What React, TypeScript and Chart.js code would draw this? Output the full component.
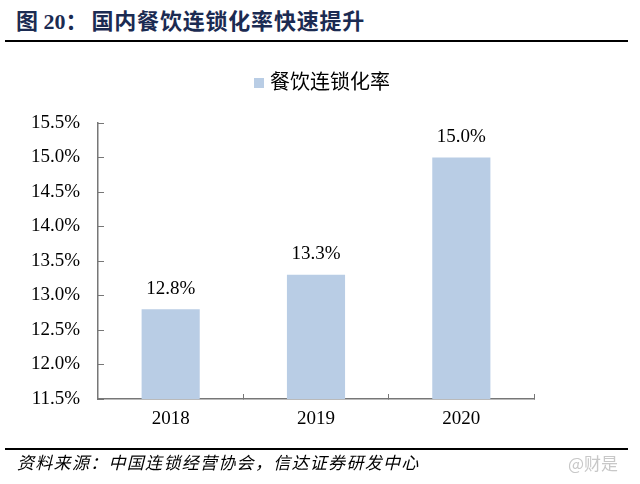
import React, { useEffect, useRef } from "react";
import { Chart, registerables } from "chart.js";

Chart.register(...registerables);

const categories = ["2018", "2019", "2020"];
const seriesName = "餐饮连锁化率";
const values = [12.8, 13.3, 15.0];
const yTicks = [11.5, 12.0, 12.5, 13.0, 13.5, 14.0, 14.5, 15.0, 15.5];

const titleLead = "图 20：";
const titleText = "国内餐饮连锁化率快速提升";
const sourceText = "资料来源：中国连锁经营协会，信达证券研发中心";
const watermark = "@财是";

const SERIF = "'Liberation Serif', 'Noto Sans CJK SC', serif";
const BAR_COLOR = "#b9cde5";

const valueLabelPlugin = {
  id: "valueLabels",
  afterDatasetsDraw(chart: any) {
    const ctx = chart.ctx;
    const meta = chart.getDatasetMeta(0);
    ctx.save();
    ctx.font = `19px ${SERIF}`;
    ctx.fillStyle = "#000";
    ctx.textAlign = "center";
    ctx.textBaseline = "bottom";
    meta.data.forEach((bar: any, i: number) => {
      const v = chart.data.datasets[0].data[i] as number;
      ctx.fillText(v.toFixed(1) + "%", bar.x, bar.y - 11);
    });
    ctx.restore();
  },
};

const legendPlugin = {
  id: "customLegend",
  afterDraw(chart: any) {
    const ctx = chart.ctx;
    const ds = chart.data.datasets[0];
    ctx.save();
    ctx.font = `20px ${SERIF}`;
    const label = ds.label as string;
    const tw = ctx.measureText(label).width;
    const box = 10;
    const gap = 6;
    const total = box + gap + tw;
    const cx = 322;
    const cy = 83;
    const x0 = cx - total / 2;
    ctx.fillStyle = ds.backgroundColor;
    ctx.fillRect(x0, cy - box / 2, box, box);
    ctx.fillStyle = "#000";
    ctx.textAlign = "left";
    ctx.textBaseline = "middle";
    ctx.fillText(label, x0 + box + gap, cy + 1);
    ctx.restore();
  },
};

export default function App() {
  const ref = useRef<HTMLCanvasElement | null>(null);

  useEffect(() => {
    document.body.style.margin = "0";
    if (!ref.current) return;
    const chart = new Chart(ref.current, {
      type: "bar",
      data: {
        labels: categories,
        datasets: [
          {
            label: seriesName,
            data: values,
            backgroundColor: BAR_COLOR,
            borderWidth: 0,
            categoryPercentage: 1,
            barPercentage: 0.4,
          },
        ],
      },
      options: {
        animation: false,
        responsive: false,
        maintainAspectRatio: false,
        layout: { padding: { top: 123, right: 106, bottom: 0, left: 0 } },
        plugins: {
          legend: { display: false },
          tooltip: { enabled: false },
          title: { display: false },
        },
        scales: {
          x: {
            grid: {
              display: true,
              drawOnChartArea: false,
              drawTicks: true,
              tickLength: -5,
              offset: true,
              color: "#777",
            },
            border: { display: true, color: "#777", width: 1.5 },
            ticks: {
              color: "#000",
              font: { size: 19, family: SERIF },
              padding: 14,
            },
            afterFit(scale: any) {
              scale.height = 85;
            },
          },
          y: {
            min: 11.5,
            max: 15.5,
            afterBuildTicks(scale: any) {
              scale.ticks = yTicks.map((v) => ({ value: v }));
            },
            grid: {
              display: true,
              drawOnChartArea: false,
              drawTicks: true,
              tickLength: -6,
              color: "#777",
            },
            border: { display: true, color: "#777", width: 1.5 },
            ticks: {
              color: "#000",
              font: { size: 19, family: SERIF },
              padding: 24,
              callback: (v: any) => Number(v).toFixed(1) + "%",
            },
            afterFit(scale: any) {
              scale.width = 98;
            },
          },
        },
      },
      plugins: [valueLabelPlugin, legendPlugin],
    });
    return () => chart.destroy();
  }, []);

  return (
    <div style={{ position: "relative", width: 640, height: 484, background: "#fff", overflow: "hidden" }}>
      <div
        style={{
          position: "absolute",
          left: 16,
          top: 7,
          fontFamily: SERIF,
          fontWeight: "bold",
          fontSize: 22,
          color: "#1b2b52",
          whiteSpace: "nowrap",
          lineHeight: "30px",
        }}
      >
        <span>{titleLead}</span>
        <span style={{ marginLeft: 4, letterSpacing: 0.8 }}>{titleText}</span>
      </div>
      <div style={{ position: "absolute", left: 5, top: 40, width: 623, height: 2, background: "#000" }} />
      <canvas ref={ref} width={640} height={484} style={{ position: "absolute", left: 0, top: 0, width: 640, height: 484 }} />
      <div style={{ position: "absolute", left: 5, top: 448, width: 623, height: 1.5, background: "#000" }} />
      <div
        style={{
          position: "absolute",
          left: 17,
          top: 450,
          fontFamily: "'Noto Sans CJK SC', sans-serif",
          fontStyle: "italic",
          fontSize: 17,
          letterSpacing: 1.3,
          color: "#000",
          whiteSpace: "nowrap",
          lineHeight: "24px",
        }}
      >
        {sourceText}
      </div>
      <div
        style={{
          position: "absolute",
          left: 568,
          top: 451,
          fontFamily: "'Noto Sans CJK SC', sans-serif",
          fontSize: 17,
          color: "#c8c8c8",
          whiteSpace: "nowrap",
          lineHeight: "24px",
        }}
      >
        {watermark}
      </div>
    </div>
  );
}
